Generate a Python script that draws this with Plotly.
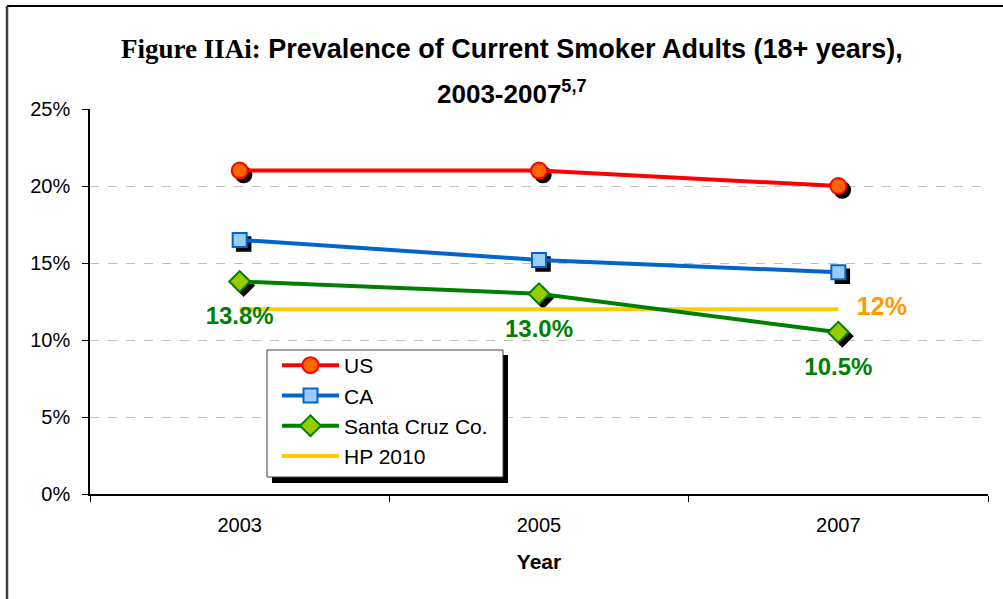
import plotly.graph_objects as go

years = ["2003", "2005", "2007"]
us = [21.0, 21.0, 20.0]
ca = [16.5, 15.2, 14.4]
santa_cruz = [13.8, 13.0, 10.5]
hp2010 = [12.0, 12.0, 12.0]
sc_labels = ["13.8%", "13.0%", "10.5%"]
hp_label = "12%"
y_ticks = [0, 5, 10, 15, 20, 25]
y_ticktext = ["0%", "5%", "10%", "15%", "20%", "25%"]

W, H = 1003, 599
ML, MR, MT, MB = 90, 15, 109, 105
PW = W - ML - MR
PH = H - MT - MB
XR = [-0.5, len(years) - 0.5]
YR = [0, 25]
px_per_x = PW / (XR[1] - XR[0])
px_per_y = PH / (YR[1] - YR[0])
SH = 4  # shadow offset in px

SANS = "Liberation Sans, Arial, sans-serif"

series = [
    dict(name="US", y=us, line="#FF0000", fill="#FF6600", symbol="circle", size=16),
    dict(name="CA", y=ca, line="#0066CC", fill="#99CCFF", symbol="square", size=14),
    dict(name="Santa Cruz Co.", y=santa_cruz, line="#008000", fill="#99CC00", symbol="diamond", size=16),
]

fig = go.Figure()

# shadows on base axes (drawn below)
for s in series:
    fig.add_trace(go.Scatter(
        x=years, y=s["y"], mode="markers", showlegend=False, hoverinfo="skip",
        marker=dict(symbol=s["symbol"], size=s["size"], color="black",
                    line=dict(color="black", width=1.5)),
        xaxis="x", yaxis="y", cliponaxis=False))

fig.add_trace(go.Scatter(
    x=years, y=hp2010, mode="lines", name="HP 2010",
    line=dict(color="#FFCC00", width=4), xaxis="x2", yaxis="y2",
    legendrank=4, legendgroup="g4"))

for i, s in enumerate(series):
    fig.add_trace(go.Scatter(
        x=years, y=s["y"], mode="lines+markers", name=s["name"],
        line=dict(color=s["line"], width=4),
        marker=dict(symbol=s["symbol"], size=s["size"], color=s["fill"],
                    line=dict(color=s["line"], width=2)),
        xaxis="x2", yaxis="y2", cliponaxis=False,
        legendrank=i + 1, legendgroup="g%d" % (i + 1)))

# data labels as text traces
fig.add_trace(go.Scatter(
    x=years, y=santa_cruz, mode="markers+text", text=["<b>%s</b>" % t for t in sc_labels],
    textposition="bottom center", showlegend=False, hoverinfo="skip",
    marker=dict(size=38, color="rgba(0,0,0,0)"),
    textfont=dict(family=SANS, size=24, color="#008000"),
    xaxis="x2", yaxis="y2", cliponaxis=False))
fig.add_trace(go.Scatter(
    x=[years[-1]], y=[hp2010[-1]], mode="markers+text", text=["<b>%s</b>" % hp_label],
    textposition="middle right", showlegend=False, hoverinfo="skip",
    marker=dict(size=28, color="rgba(0,0,0,0)"),
    textfont=dict(family=SANS, size=25, color="#FF9900"),
    xaxis="x2", yaxis="y2", cliponaxis=False))

def px_x(p):
    return (p - ML) / PW

def px_y(p):
    return (MT + PH - p) / PH

# title
fig.add_annotation(
    x=0.5, y=px_y(49), xref="paper", yref="paper",
    text="<b><span style=\"font-family:'Liberation Serif', 'Times New Roman', serif\">Figure IIAi:</span> Prevalence of Current Smoker Adults (18+ years),</b>",
    showarrow=False, xanchor="center", yanchor="middle",
    xshift=(W / 2 + 10) - (ML + PW / 2),
    font=dict(family=SANS, size=27, color="black"))
fig.add_annotation(
    x=0.5, y=px_y(92), xref="paper", yref="paper",
    text="<b>2003-2007<sup>5,7</sup></b>",
    showarrow=False, xanchor="center", yanchor="middle",
    xshift=(W / 2 + 10) - (ML + PW / 2),
    font=dict(family=SANS, size=26, color="black"))

# outer border
fig.add_shape(type="line", xref="paper", yref="paper", x0=px_x(7), x1=px_x(1010),
              y0=px_y(6), y1=px_y(6), line=dict(color="black", width=2))
fig.add_shape(type="line", xref="paper", yref="paper", x0=px_x(7), x1=px_x(7),
              y0=px_y(6), y1=px_y(610), line=dict(color="#404040", width=2.5))

# legend shadow + box
fig.add_shape(type="rect", xref="paper", yref="paper", x0=px_x(272), x1=px_x(508),
              y0=px_y(483), y1=px_y(355), fillcolor="black", line=dict(width=0), layer="above")
fig.add_shape(type="rect", xref="paper", yref="paper", x0=px_x(267), x1=px_x(503),
              y0=px_y(477), y1=px_y(350), fillcolor="white",
              line=dict(color="#404040", width=1), layer="above")

fig.update_layout(
    width=W, height=H,
    margin=dict(l=ML, r=MR, t=MT, b=MB),
    paper_bgcolor="white", plot_bgcolor="white",
    font=dict(family=SANS, size=20, color="black"),
    showlegend=True,
    legend=dict(x=px_x(277), y=px_y(345), xanchor="left", yanchor="top",
                bgcolor="rgba(0,0,0,0)", borderwidth=0,
                font=dict(family=SANS, size=21, color="black"),
                itemwidth=57, tracegroupgap=9, traceorder="normal"),
    xaxis=dict(type="category", range=[XR[0] - SH / px_per_x, XR[1] - SH / px_per_x],
               visible=False, fixedrange=True),
    yaxis=dict(range=[YR[0] + SH / px_per_y, YR[1] + SH / px_per_y], visible=False, fixedrange=True),
    xaxis2=dict(type="category", range=XR, overlaying="x", anchor="y2", side="bottom",
                showline=True, linecolor="black", linewidth=1.5,
                ticks="outside", tickson="boundaries", ticklen=6, tickcolor="black",
                showgrid=False, ticklabelstandoff=12,
                tickfont=dict(family=SANS, size=20, color="black"),
                title=dict(text="<b>Year</b>", standoff=20,
                           font=dict(family=SANS, size=21, color="black"))),
    yaxis2=dict(range=YR, overlaying="y", anchor="x2", side="left",
                tickmode="array", tickvals=y_ticks, ticktext=y_ticktext,
                showline=True, linecolor="black", linewidth=1.5,
                ticks="outside", ticklen=6, tickcolor="black",
                showgrid=True, gridcolor="#BFBFBF", griddash="dash", gridwidth=1,
                zeroline=False, ticklabelstandoff=8,
                tickfont=dict(family=SANS, size=20, color="black")),
)

fig.write_html("out.html")
